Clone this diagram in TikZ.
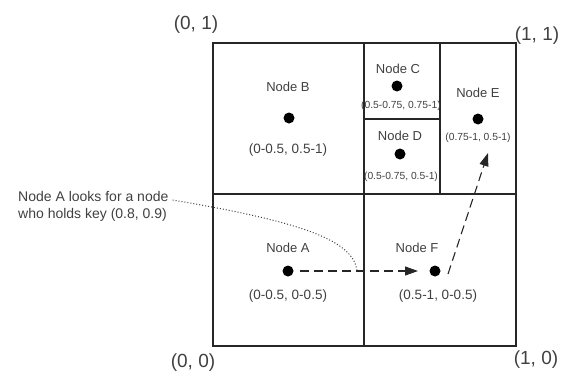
\documentclass[tikz,border=0pt]{standalone}
\usepackage{fontspec}
\setmainfont{Liberation Sans}
\usetikzlibrary{arrows.meta, positioning}

\begin{document}
\begin{tikzpicture}[
    x=1pt, y=-1pt,
    zone/.style={draw=black!85, line width=1.3pt},
    dot/.style={circle, fill=black, inner sep=0pt, minimum size=11pt},
    lbl/.style={text=black!75, inner sep=0pt, font=\fontsize{13}{15}\selectfont},
    rng/.style={text=black!75, inner sep=0pt, font=\fontsize{13.5}{16}\selectfont},
    small/.style={text=black!75, inner sep=0pt, font=\fontsize{10.3}{12}\selectfont},
    corner/.style={text=black!75, inner sep=0pt, font=\fontsize{19}{22}\selectfont},
    note/.style={text=black!75, inner sep=0pt, align=left, font=\fontsize{14}{17}\selectfont},
    hop/.style={-{Triangle[length=13pt, width=9pt]}, dash pattern=on 9pt off 5pt, line width=1.1pt, black!85},
    look/.style={dotted, line width=1pt, black!75},
]
\useasboundingbox (0,0) rectangle (572,383);

% Zones
\draw[zone] (213,43) rectangle (516,346);
\draw[zone] (364,43) -- (364,346);
\draw[zone] (213,194) -- (516,194);
\draw[zone] (440,43) -- (440,194);
\draw[zone] (364,119) -- (440,119);

% Corners
\node[corner] (c01) at (196,25) {(0, 1)};
\node[corner] (c11) at (537,36) {(1, 1)};
\node[corner] (c00) at (193,363) {(0, 0)};
\node[corner] (c10) at (536,360) {(1, 0)};

% Nodes
\node[dot] (dotB) at (289,118) {};
\node[lbl] (labB) at (288,87) {Node B};
\node[rng] (rngB) at (288,150) {(0-0.5, 0.5-1)};

\node[dot] (dotC) at (397,86) {};
\node[lbl] (labC) at (398,69) {Node C};
\node[small] (rngC) at (401,106) {(0.5-0.75, 0.75-1)};

\node[dot] (dotD) at (400,154) {};
\node[lbl] (labD) at (400,136) {Node D};
\node[small] (rngD) at (401,177) {(0.5-0.75, 0.5-1)};

\node[dot] (dotE) at (478,119) {};
\node[lbl] (labE) at (478,93) {Node E};
\node[small] (rngE) at (478,138) {(0.75-1, 0.5-1)};

\node[dot] (dotA) at (288,271) {};
\node[lbl] (labA) at (288,248) {Node A};
\node[rng] (rngA) at (288,296) {(0-0.5, 0-0.5)};

\node[dot] (dotF) at (435,271) {};
\node[lbl] (labF) at (417,248) {Node F};
\node[rng] (rngF) at (438,296) {(0.5-1, 0-0.5)};

% Query
\node[note, anchor=west] (query) at (18,206) {Node A looks for a node\\who holds key (0.8, 0.9)};
\coordinate (hit) at (357,271);
\coordinate (nearE) at (488,153);

% Arrows
\draw[hop] ([xshift=12pt]dotA.center) -- ([xshift=-17pt]dotF.center);
\draw[hop] ([xshift=13pt, yshift=-3pt]dotF.center) -- (nearE);
\draw[look] ([xshift=4pt, yshift=6pt]query.east) .. controls (290,220) and (354,238) .. (hit);

\end{tikzpicture}
\end{document}
